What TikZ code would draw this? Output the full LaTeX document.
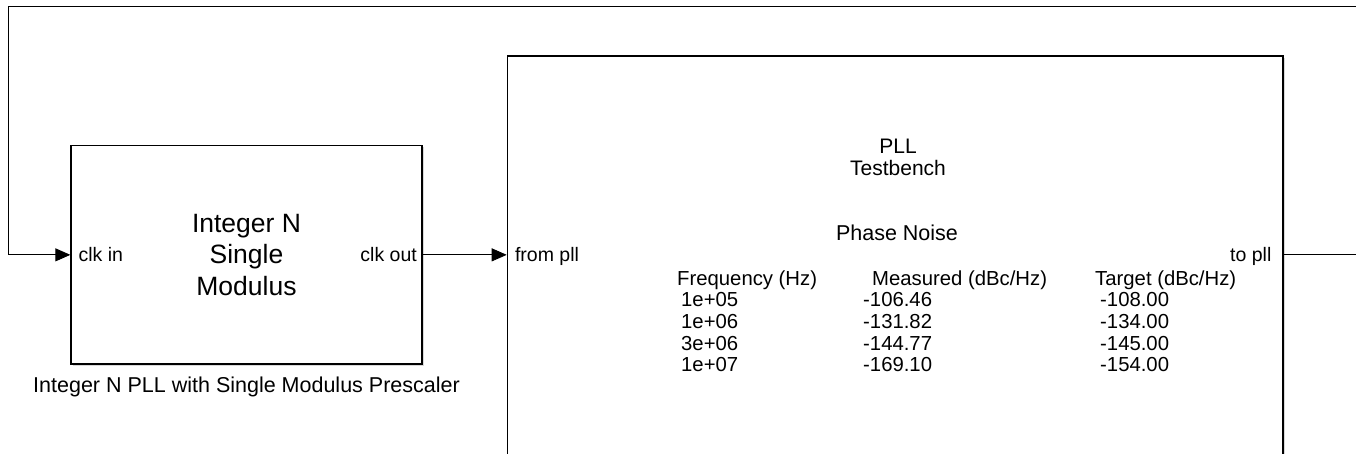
\documentclass[tikz,border=0pt]{standalone}
\usepackage{fontspec}
\setmainfont{Liberation Sans}
\usetikzlibrary{arrows.meta, positioning, shadows}

\tikzset{
  block/.style={rectangle, draw, line width=1.3pt, fill=white, drop shadow={shadow xshift=1.5pt, shadow yshift=-1.5pt, fill=black!30}},
  port/.style={inner sep=0pt, font=\fontsize{19.5}{22}\selectfont},
  tabtext/.style={inner sep=0pt, align=left, font=\fontsize{20.3}{21.7}\selectfont},
  wire/.style={line width=0.9pt},
  sig/.style={wire, -{Triangle[length=15pt, width=13pt]}}
}

\begin{document}
\begin{tikzpicture}[x=1pt, y=-1pt]
\clip (0,0) rectangle (1356,453);

% blocks
\node[block, minimum width=351pt, minimum height=218.3pt, align=center, font=\fontsize{26.5}{31.7}\selectfont] (divider) at (246.5,254.85) {Integer N\\Single\\Modulus};
\node[inner sep=0pt, below=12pt of divider, font=\fontsize{21.5}{24}\selectfont] (caption) {Integer N PLL with Single Modulus Prescaler};
\node[block, minimum width=775.7pt, minimum height=500pt] (bench) at (895.2,306) {};

% ports
\node[port, anchor=base west] (clkin) at (78.4,261.7) {clk in};
\node[port, anchor=base east] (clkout) at (417,261.7) {clk out};
\node[port, anchor=base west] (frompll) at (514.8,261.7) {from pll};
\node[port, anchor=base east] (topll) at (1271.6,261.7) {to pll};

% testbench display (base = last line)
\node[anchor=base, align=center, inner sep=0pt, font=\fontsize{21}{21.7}\selectfont] (benchname) at (898,175) {PLL\\Testbench};
\node[anchor=base, inner sep=0pt, font=\fontsize{21.5}{24}\selectfont] (noise) at (897,240) {Phase Noise};
\node[tabtext, anchor=base west] (freqhead) at (677,285) {Frequency (Hz)};
\node[tabtext, anchor=base west] (meashead) at (872,285) {Measured (dBc/Hz)};
\node[tabtext, anchor=base west] (targhead) at (1095,285) {Target (dBc/Hz)};
\node[tabtext, anchor=base west] (freqs) at (681,371.8) {1e+05\\1e+06\\3e+06\\1e+07};
\node[tabtext, anchor=base west] (meas) at (863,371.8) {-106.46\\-131.82\\-144.77\\-169.10};
\node[tabtext, anchor=base west] (targ) at (1100,371.8) {-108.00\\-134.00\\-145.00\\-154.00};

% connections
\coordinate (fbright) at (1362,6);
\coordinate (fbleft) at (8,6);
\draw[sig] (divider.east) -- (divider.east -| bench.west);
\draw[sig] (divider.east -| bench.east) -| (fbright) -- (fbleft) |- (divider.west);
\end{tikzpicture}
\end{document}
